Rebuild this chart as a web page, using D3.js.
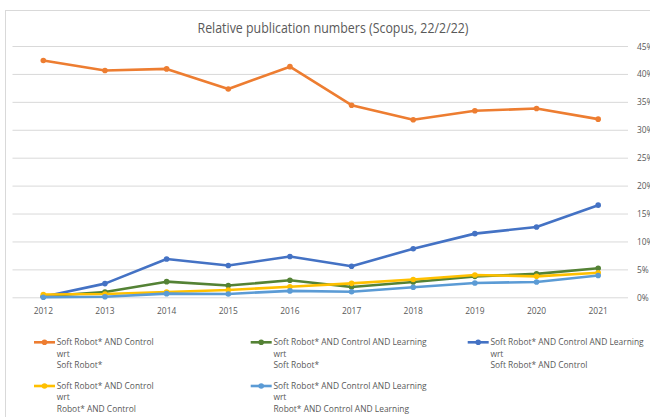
<!DOCTYPE html>
<html>
<head>
<meta charset="utf-8">
<script src="https://cdn.jsdelivr.net/npm/d3@7"></script>
<style>
  html, body { margin: 0; padding: 0; background: #fff; }
  svg { display: block; font-family: "Open Sans", "Liberation Sans", sans-serif; }
</style>
</head>
<body>
<div class="chart"></div>
<script>
const width = 650;
const height = 417;

const years = ["2012", "2013", "2014", "2015", "2016", "2017", "2018", "2019", "2020", "2021"];
const yTicks = [0, 5, 10, 15, 20, 25, 30, 35, 40, 45];

// percent values
const softControl = [42.4, 40.6, 40.9, 37.3, 41.3, 34.4, 31.8, 33.4, 33.8, 31.9];
const softControlLearning = [0.2, 0.95, 2.8, 2.1, 3.05, 1.85, 2.75, 3.75, 4.2, 5.2];
const learningOfControl = [0.1, 2.45, 6.85, 5.7, 7.3, 5.55, 8.7, 11.4, 12.6, 16.5];
const softOfRobotControl = [0.5, 0.6, 0.95, 1.3, 1.9, 2.5, 3.2, 4.0, 3.75, 4.4];
const softOfRobotLearning = [0.0, 0.1, 0.65, 0.6, 1.15, 1.0, 1.8, 2.55, 2.75, 3.9];

const series = [
  { name: ["Soft Robot* AND Control", "wrt", "Soft Robot*"], values: softControl, color: "#ED7D31" },
  { name: ["Soft Robot* AND Control AND Learning", "wrt", "Soft Robot*"], values: softControlLearning, color: "#548235" },
  { name: ["Soft Robot* AND Control AND Learning", "wrt", "Soft Robot* AND Control"], values: learningOfControl, color: "#4472C4" },
  { name: ["Soft Robot* AND Control", "wrt", "Robot* AND Control"], values: softOfRobotControl, color: "#FFC000" },
  { name: ["Soft Robot* AND Control AND Learning", "wrt", "Robot* AND Control AND Learning"], values: softOfRobotLearning, color: "#5B9BD5" },
];

const textColor = "#595959";
const gridColor = "#d9d9d9";

const svg = d3.select(".chart")
  .append("svg")
  .attr("width", width)
  .attr("height", height);

// chart frame (runs off the right edge like the source)
svg.append("rect")
  .attr("x", 5.5).attr("y", 10.5)
  .attr("width", 700).attr("height", 430)
  .attr("fill", "none")
  .attr("stroke", gridColor);

const xScale = d3.scaleBand().domain(years).range([12.5, 629]);
const yScale = d3.scaleLinear().domain([0, 45]).range([297.3, 46]);

// squeeze wide fallback font to the narrow original
const title = svg.append("text")
  .attr("x", 333).attr("y", 33)
  .attr("text-anchor", "middle")
  .attr("fill", textColor)
  .style("font-size", "14px")
  .text("Relative publication numbers (Scopus, 22/2/22)");
const k = 271 / title.node().getComputedTextLength();
function squeeze(sel) {
  sel.each(function () {
    const len = this.getComputedTextLength();
    d3.select(this).attr("textLength", len * k).attr("lengthAdjust", "spacingAndGlyphs");
  });
}
squeeze(title);

// gridlines + right-hand axis
const yAxis = d3.axisRight(yScale)
  .tickValues(yTicks)
  .tickSize(615.5)
  .tickPadding(9)
  .tickFormat((d) => d + "%");

const gy = svg.append("g")
  .attr("transform", "translate(12.5,0)")
  .call(yAxis);
gy.select(".domain").remove();
gy.selectAll(".tick line").attr("stroke", gridColor);
gy.selectAll(".tick text")
  .attr("fill", textColor)
  .style("font-size", "9.5px")
  .style("font-family", "Open Sans, sans-serif");
squeeze(gy.selectAll(".tick text"));

const xAxis = d3.axisBottom(xScale).tickSize(0).tickPadding(10);
const gx = svg.append("g")
  .attr("transform", "translate(0,297.3)")
  .call(xAxis);
gx.select(".domain").remove();
gx.selectAll(".tick text")
  .attr("fill", textColor)
  .style("font-size", "9.5px")
  .style("font-family", "Open Sans, sans-serif");
squeeze(gx.selectAll(".tick text"));

const xPos = (i) => xScale(years[i]) + xScale.bandwidth() / 2;
const line = d3.line()
  .x((d, i) => xPos(i))
  .y((d) => yScale(d));

series.forEach((s) => {
  const g = svg.append("g");
  g.append("path")
    .datum(s.values)
    .attr("d", line)
    .attr("fill", "none")
    .attr("stroke", s.color)
    .attr("stroke-width", 2.6)
    .attr("stroke-linejoin", "round");
  g.selectAll("circle")
    .data(s.values)
    .enter()
    .append("circle")
    .attr("cx", (d, i) => xPos(i))
    .attr("cy", (d) => yScale(d))
    .attr("r", 2.8)
    .attr("fill", s.color);
});

// legend: 3 columns, 2 rows
const legendCols = [34, 250.7, 467.7];
const legendRows = [342.3, 386];

const legend = svg.append("g").attr("class", "legend");
series.forEach((s, i) => {
  const lx = legendCols[i % 3];
  const ly = legendRows[Math.floor(i / 3)];
  const item = legend.append("g").attr("transform", `translate(${lx},${ly})`);
  item.append("line")
    .attr("x1", 0).attr("x2", 21)
    .attr("stroke", s.color)
    .attr("stroke-width", 2.6);
  item.append("circle")
    .attr("cx", 10.5).attr("r", 2.8)
    .attr("fill", s.color);
  const t = item.append("text")
    .attr("x", 22.7).attr("y", 3)
    .attr("fill", textColor)
    .style("font-size", "9.5px");
  t.selectAll("tspan")
    .data(s.name)
    .enter()
    .append("tspan")
    .attr("x", 22.7)
    .attr("dy", (d, j) => (j === 0 ? 0 : 11.3))
    .text((d) => d);
  t.selectAll("tspan").each(function () {
    const len = this.getComputedTextLength();
    d3.select(this).attr("textLength", len * k).attr("lengthAdjust", "spacingAndGlyphs");
  });
});
</script>
</body>
</html>
